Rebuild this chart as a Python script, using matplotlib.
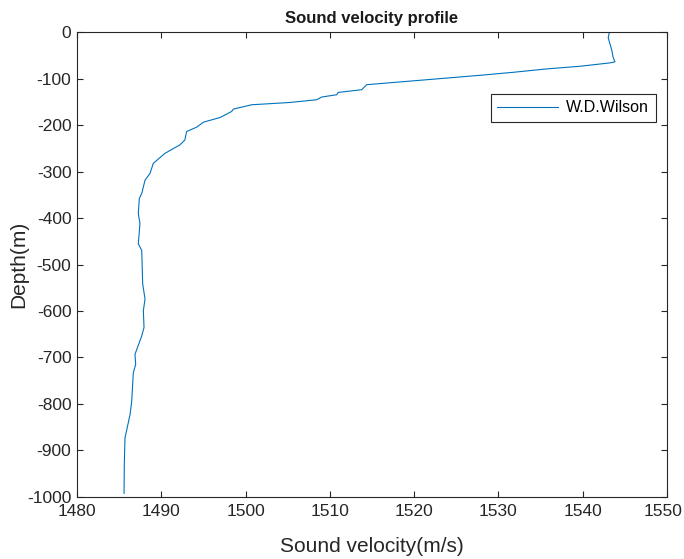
import matplotlib
matplotlib.use("Agg")
import matplotlib.pyplot as plt
from matplotlib.transforms import ScaledTranslation
import numpy as np

plt.rcParams['font.family'] = ['Liberation Sans', 'DejaVu Sans']
plt.rcParams['axes.unicode_minus'] = False

# Sound velocity profile (Wilson formula), depth in metres (negative down)
depth = [0, -11.5, -36.8, -54.8, -63.4, -65.6, -72.9, -78.6, -85.9, -92.4,
         -112.6, -123.4, -129.2, -134.2, -139.2, -145.0, -150.9, -155.8,
         -165.2, -170.3, -183.3, -193.3, -204.0, -213.6, -231.6, -242.4,
         -246.1, -260.4, -282.0, -303.7, -318.2, -347.0, -357.8, -390.3,
         -411.9, -455.2, -469.7, -541.8, -574.2, -599.6, -635.7, -653.7,
         -693.3, -714.9, -733.1, -794.4, -823.2, -873.8, -931.4, -992.8]
velocity = [1543.15, 1543.03, 1543.43, 1543.63, 1543.83, 1543.24, 1539.68,
            1535.73, 1531.76, 1527.81, 1514.37, 1513.78, 1511.00, 1510.81,
            1509.03, 1508.44, 1505.27, 1500.73, 1498.54, 1498.35, 1496.97,
            1495.00, 1494.20, 1493.00, 1492.80, 1492.20, 1491.83, 1490.44,
            1489.05, 1488.66, 1488.07, 1487.68, 1487.39, 1487.27, 1487.47,
            1487.27, 1487.68, 1487.79, 1488.07, 1487.87, 1487.95, 1487.68,
            1486.88, 1486.96, 1486.68, 1486.49, 1486.29, 1485.69, 1485.61,
            1485.58]

x_ticks = list(range(1480, 1551, 10))
y_ticks = list(range(-1000, 1, 100))

fig = plt.figure(figsize=(6.84, 5.59), dpi=100)
ax = fig.add_axes([0.1126, 0.1115, 0.8625, 0.8305])

ax.plot(velocity, depth, color='#0072BD', linewidth=0.8, label='W.D.Wilson')

ax.set_xlim(1480, 1550)
ax.set_ylim(-1000, 0)
ax.set_xticks(x_ticks)
ax.set_yticks(y_ticks)
ax.tick_params(direction='in', top=True, right=True, labelsize=12.5,
               length=4, width=0.8, color='#262626', labelcolor='#262626')
ax.tick_params(axis='x', pad=5)
ax.tick_params(axis='y', pad=4)
for s in ax.spines.values():
    s.set_linewidth(0.8)
    s.set_color('#262626')

ax.set_title('Sound velocity profile', fontsize=12, fontweight='bold',
             color='#1a1a1a', pad=7)
ax.set_xlabel('Sound velocity(m/s)', fontsize=15, color='#262626', labelpad=13)
ax.set_ylabel('Depth(m)', fontsize=15, color='#262626', labelpad=-1)

leg = ax.legend(loc='upper right', bbox_to_anchor=(0.981, 0.868),
                fancybox=False, framealpha=1, edgecolor='#262626',
                fontsize=11.5, handlelength=3.8, handletextpad=0.5,
                borderpad=0.42, borderaxespad=0)
leg.get_frame().set_linewidth(0.8)

# keep the last x tick label inside the figure edge
fig.canvas.draw()
last = ax.xaxis.get_major_ticks()[-1].label1
last.set_transform(last.get_transform() +
                   ScaledTranslation(-3 / 72, 0, fig.dpi_scale_trans))

fig.savefig('out.png', dpi=100)
